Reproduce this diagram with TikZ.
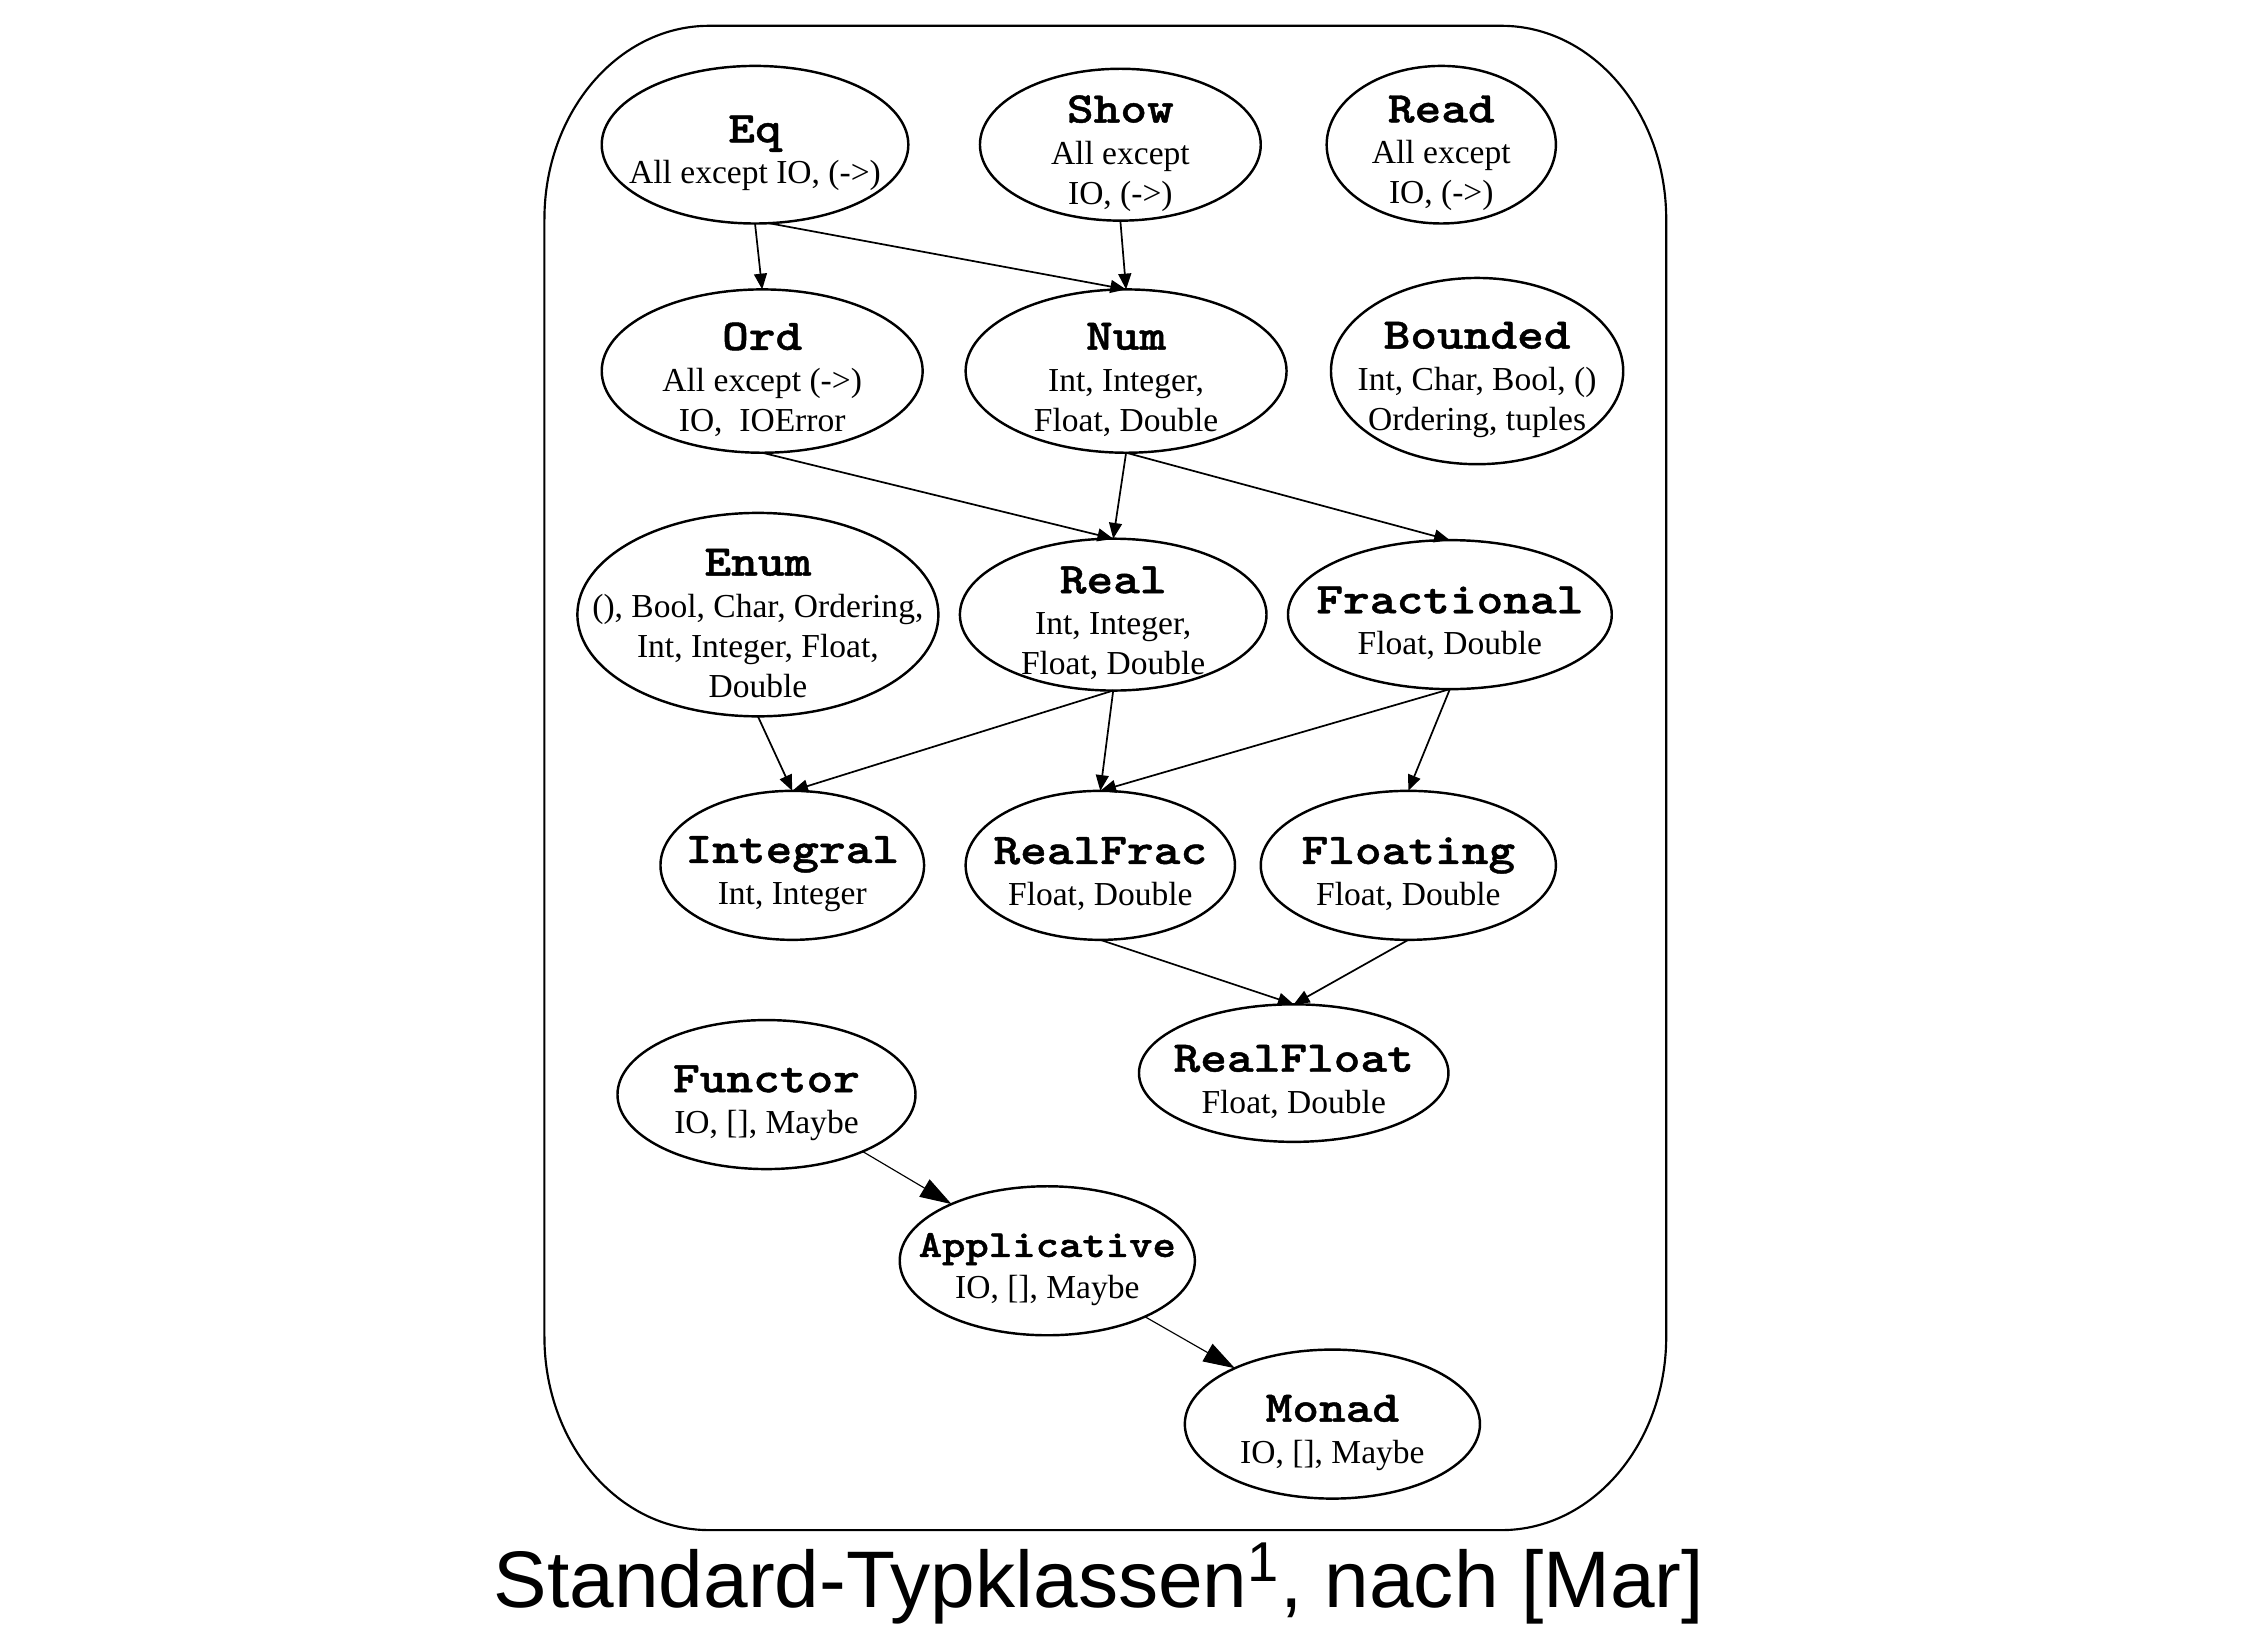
\documentclass[tikz,border=0pt]{standalone}
\usepackage{fontspec}
\setmainfont{Liberation Serif}
\newfontfamily\ttlfont{lmmonolt10-bold.otf}[FakeStretch=1.16,FakeBold=1]
\newfontfamily\capfont{Liberation Sans}
\usetikzlibrary{arrows.meta,shapes.geometric}
\tikzset{
 cls/.style={ellipse, draw, line width=0.85pt, inner sep=0pt, outer sep=0pt},
 lbl/.style={align=center, inner sep=0pt, font=\fontsize{11.7}{14}\selectfont, yshift=-3pt},
 edge/.style={line width=0.6pt, -{Triangle[length=5.5pt,width=4.5pt]}},
 bigedge/.style={line width=0.4pt, -{Triangle[length=11pt,width=7pt]}},
 frame/.style={line width=0.75pt},
}
\newcommand\ttl[1]{{\fontsize{15.3}{16}\selectfont\ttlfont #1}}
\newcommand\ttls[1]{{\fontsize{13.4}{15}\selectfont\ttlfont #1}}
\newcommand\cls[6]{%
 \node[cls, minimum width=#4pt, minimum height=#5pt] (#1) at (#2,#3) {};
 \node[lbl] (#1-t) at (#1.center) {#6};}
\begin{document}
\begin{tikzpicture}[x=0.5pt,y=-0.5pt]
\useasboundingbox (0,0) rectangle (1567,1146.1);
% outer frame
\draw[frame] (495,18) -- (1048,18)
  arc[start angle=-90,end angle=0,x radius=115,y radius=135]
  -- (1163,933)
  arc[start angle=0,end angle=90,x radius=115,y radius=135]
  -- (495,1068)
  arc[start angle=90,end angle=180,x radius=115,y radius=135]
  -- (380,153)
  arc[start angle=180,end angle=270,x radius=115,y radius=135] -- cycle;
% nodes
\cls{Eq}{527}{101}{107}{55}{\ttl{Eq}\\[0.5pt]All except IO, (->)}
\cls{Show}{782}{101}{98}{53}{\ttl{Show}\\[0.5pt]All except\\IO, (->)}
\cls{Read}{1006}{101}{80}{55}{\ttl{Read}\\[0.5pt]All except\\IO, (->)}
\cls{Ord}{532}{259}{112}{57}{\ttl{Ord}\\[0.5pt]All except (->)\\IO,\ \ IOError}
\cls{Num}{786}{259}{112}{57}{\ttl{Num}\\[0.5pt]Int, Integer,\\Float, Double}
\cls{Bounded}{1031}{259}{102}{65}{\ttl{Bounded}\\[0.5pt]Int, Char, Bool, ()\\Ordering, tuples}
\cls{Enum}{529}{429}{126}{71}{\ttl{Enum}\\[0.5pt](), Bool, Char, Ordering,\\Int, Integer, Float,\\Double}
\cls{Real}{777}{429}{107}{53}{\ttl{Real}\\[0.5pt]Int, Integer,\\Float, Double}
\cls{Fractional}{1012}{429}{113}{52}{\ttl{Fractional}\\[0.5pt]Float, Double}
\cls{Integral}{553}{604}{92}{52}{\ttl{Integral}\\[0.5pt]Int, Integer}
\cls{RealFrac}{768}{604}{94}{52}{\ttl{RealFrac}\\[0.5pt]Float, Double}
\cls{Floating}{983}{604}{103}{52}{\ttl{Floating}\\[0.5pt]Float, Double}
\cls{RealFloat}{903}{749}{108}{48}{\ttl{RealFloat}\\[0.5pt]Float, Double}
\cls{Functor}{535}{764}{104}{52}{\ttl{Functor}\\[0.5pt]IO, [], Maybe}
\cls{Applicative}{731}{880}{103}{52}{\ttls{Applicative}\\[0.5pt]IO, [], Maybe}
\cls{Monad}{930}{994}{103}{52}{\ttl{Monad}\\[0.5pt]IO, [], Maybe}
% edges
\draw[edge] (Eq.south) -- (Ord.north);
\draw[edge] (Eq.-80) -- (Num.north);
\draw[edge] (Show.south) -- (Num.north);
\draw[edge] (Ord.south) -- (Real.north);
\draw[edge] (Num.south) -- (Real.north);
\draw[edge] (Num.south) -- (Fractional.north);
\draw[edge] (Enum.south) -- (Integral.north);
\draw[edge] (Real.south) -- (Integral.north);
\draw[edge] (Real.south) -- (RealFrac.north);
\draw[edge] (Fractional.south) -- (RealFrac.north);
\draw[edge] (Fractional.south) -- (Floating.north);
\draw[edge] (RealFrac.south) -- (RealFloat.north);
\draw[edge] (Floating.south) -- (RealFloat.north);
\draw[bigedge] (Functor) -- (Applicative);
\draw[bigedge] (Applicative) -- (Monad);
% caption
\node[font=\capfont\fontsize{28}{30}\selectfont, anchor=base, inner sep=0pt] (cap) at (767,1122) {Standard-Typklassen\textsuperscript{1}, nach [Mar]};
\end{tikzpicture}
\end{document}
